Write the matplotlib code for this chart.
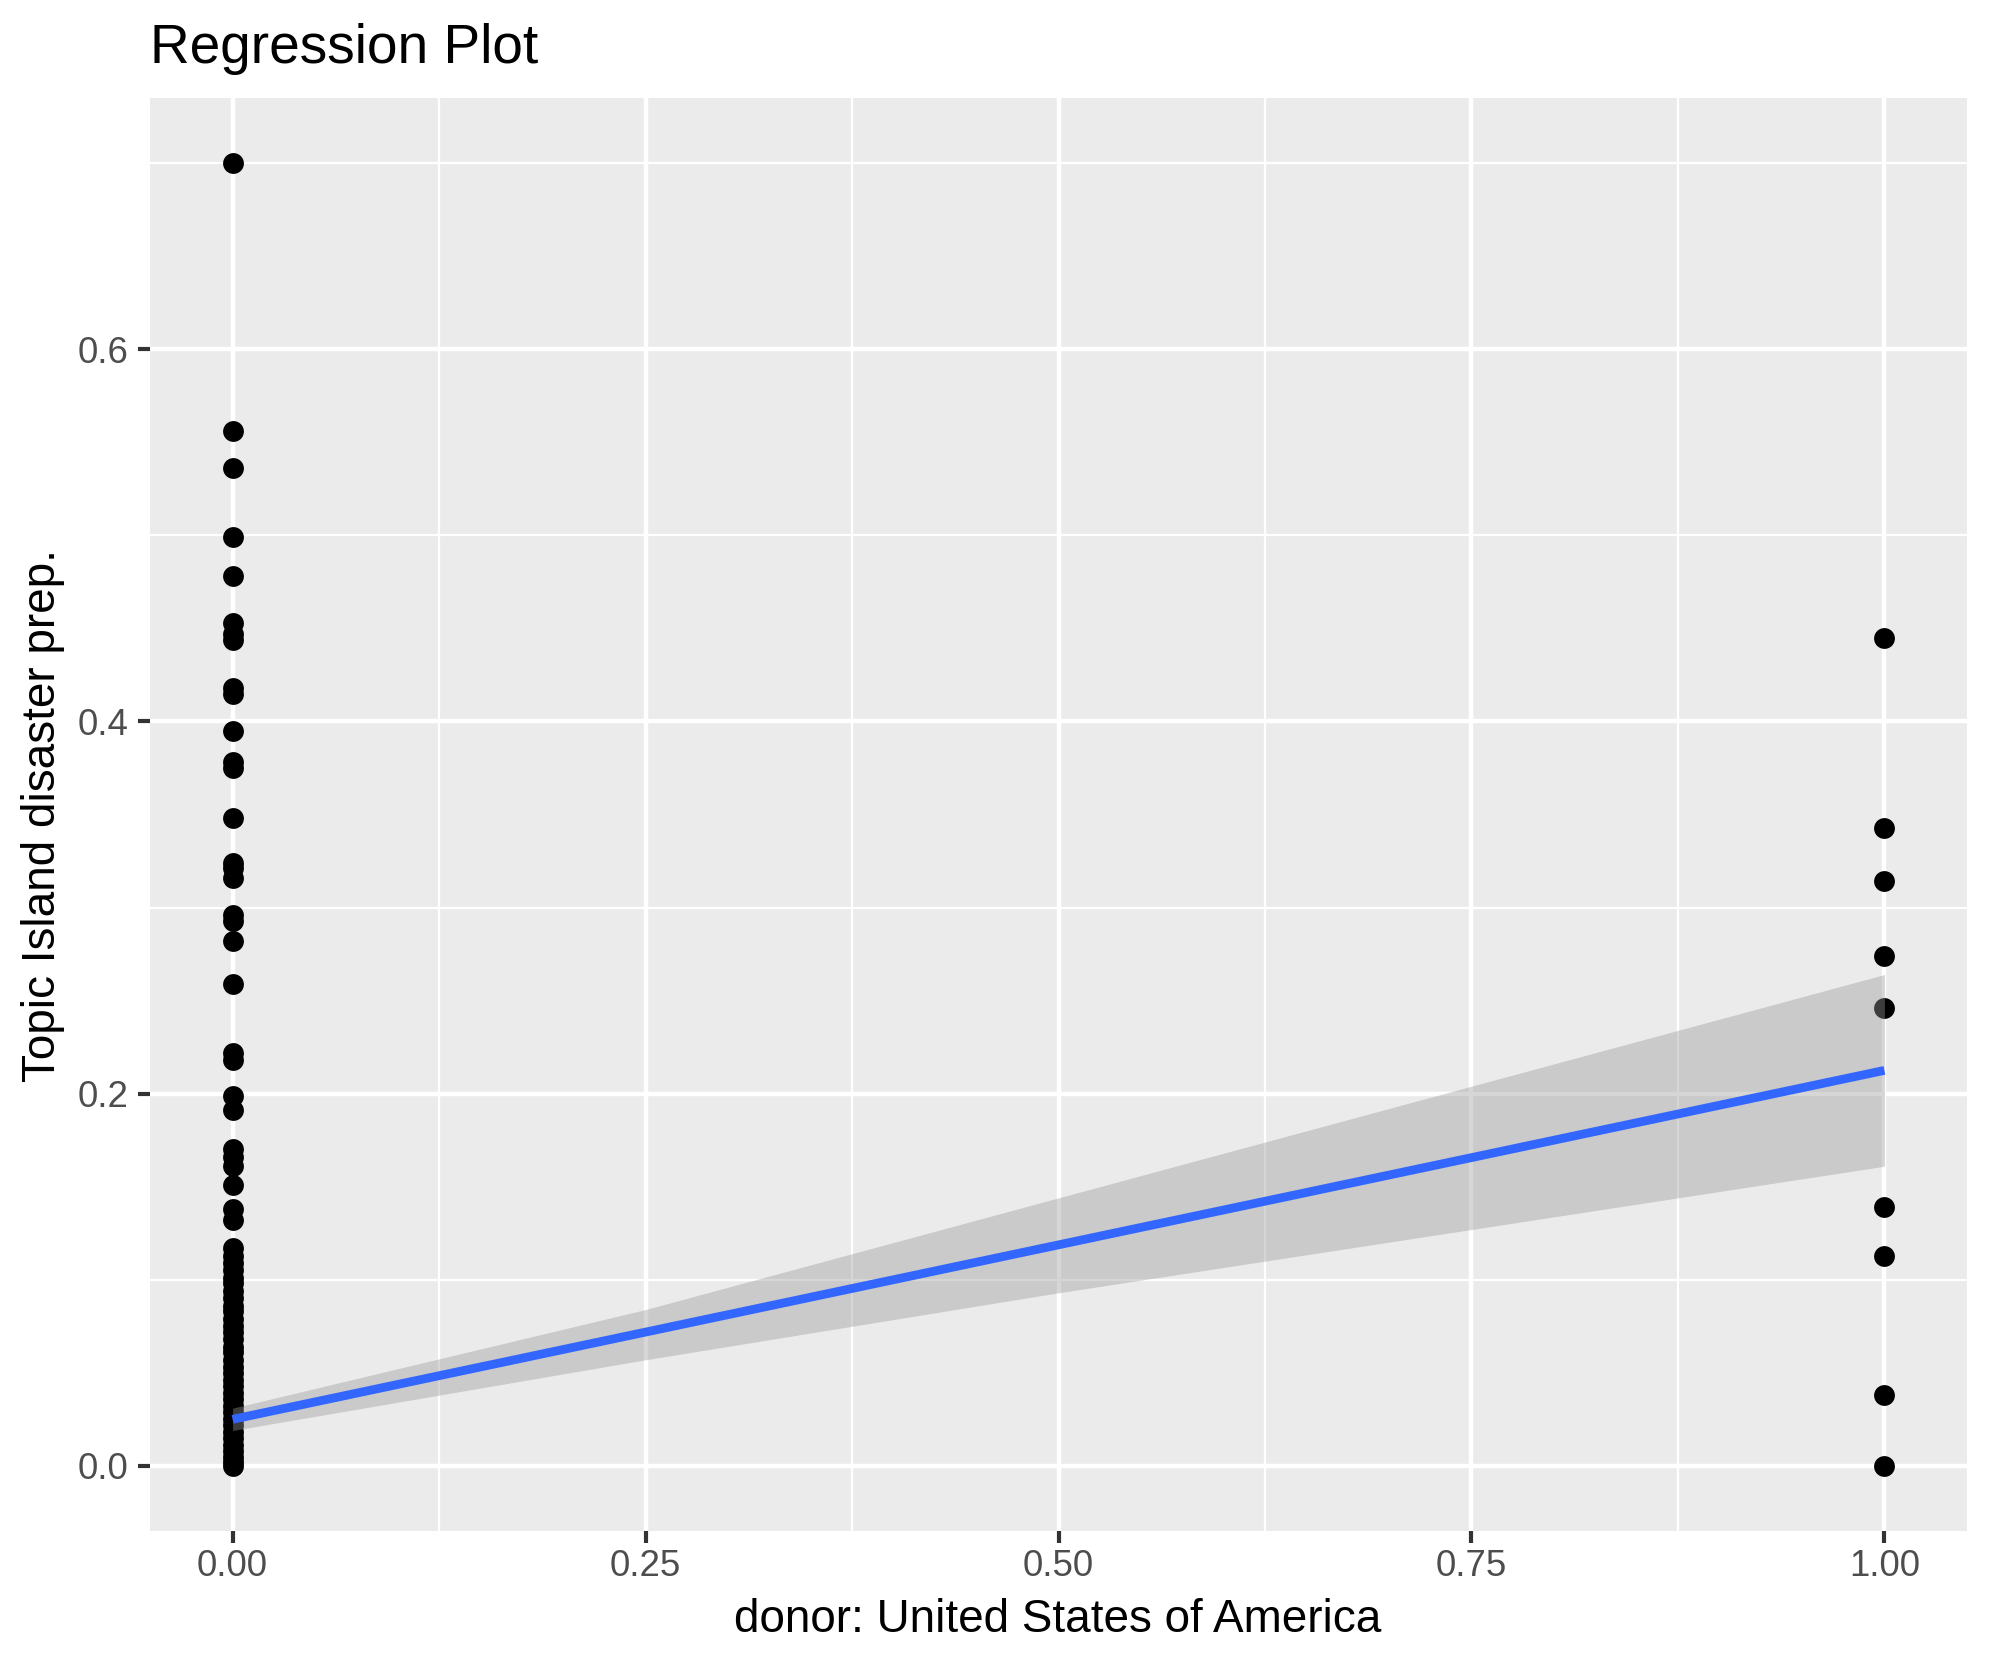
import numpy as np
import matplotlib
matplotlib.use("Agg")
import matplotlib.pyplot as plt
from matplotlib.ticker import MultipleLocator

plt.rcParams['font.family'] = ['Liberation Sans', 'DejaVu Sans']

# points (donor = 0 column, donor = 1 column)
y_donor0 = [0.700, 0.556, 0.536, 0.499, 0.478, 0.453, 0.447, 0.444, 0.418, 0.415,
            0.395, 0.378, 0.375, 0.348, 0.324, 0.321, 0.316, 0.296, 0.293, 0.282,
            0.259, 0.222, 0.218, 0.199, 0.191, 0.170, 0.166, 0.161, 0.151, 0.138,
            0.132, 0.117, 0.113, 0.109, 0.105, 0.101, 0.098, 0.094, 0.090, 0.086,
            0.083, 0.079, 0.075, 0.072, 0.068, 0.064, 0.061, 0.057, 0.053, 0.050,
            0.046, 0.043, 0.039, 0.036, 0.032, 0.029, 0.025, 0.022, 0.018, 0.015,
            0.011, 0.008, 0.005, 0.002, 0.000]
y_donor1 = [0.445, 0.343, 0.314, 0.274, 0.246, 0.139, 0.113, 0.038, 0.000]

# linear fit and its confidence band
fit_x = [0.0, 1.0]
fit_y = [0.025, 0.2125]
band_x = [0.0, 0.25, 0.5, 0.75, 1.0]
band_lo = [0.019, 0.057, 0.093, 0.127, 0.161]
band_hi = [0.031, 0.084, 0.144, 0.204, 0.264]

x_ticks = [0.0, 0.25, 0.5, 0.75, 1.0]
x_labels = ['0.00', '0.25', '0.50', '0.75', '1.00']
y_ticks = [0.0, 0.2, 0.4, 0.6]
y_labels = ['0.0', '0.2', '0.4', '0.6']

W, H = 1990, 1665
fig = plt.figure(figsize=(W / 300, H / 300), dpi=300)
ax = fig.add_axes([150 / W, 1 - 1531 / H, (1967 - 150) / W, (1531 - 98) / H])
ax.set_facecolor('#EBEBEB')
for s in ax.spines.values():
    s.set_visible(False)

# points, then band and line on top (ggplot layer order)
xs = [0.0] * len(y_donor0) + [1.0] * len(y_donor1)
ys = y_donor0 + y_donor1
ax.plot(xs, ys, 'o', color='black', markersize=5.0, markeredgewidth=0, zorder=3)
ax.fill_between(band_x, band_lo, band_hi, color='#999999', alpha=0.4,
                linewidth=0, zorder=4)
ax.plot(fit_x, fit_y, color='#3366FF', linewidth=2.1, solid_capstyle='butt', zorder=5)

ax.set_xlim(-0.05, 1.05)
ax.set_ylim(-0.035, 0.735)
ax.set_xticks(x_ticks)
ax.set_xticklabels(x_labels)
ax.set_yticks(y_ticks)
ax.set_yticklabels(y_labels)
ax.xaxis.set_minor_locator(MultipleLocator(0.125))
ax.yaxis.set_minor_locator(MultipleLocator(0.1))

ax.grid(which='major', color='white', linewidth=1.07, zorder=1)
ax.grid(which='minor', color='white', linewidth=0.53, zorder=1)
ax.set_axisbelow(True)
ax.tick_params(which='major', length=2.8, width=1.0, color='#333333',
               labelsize=8.8, labelcolor='#4D4D4D')
ax.tick_params(axis='x', which='major', pad=1.5)
ax.tick_params(axis='y', which='major', pad=2.4)
ax.tick_params(which='minor', length=0)

fig.text(150 / W, 1 - 63 / H, 'Regression Plot', fontsize=13.2,
         ha='left', va='baseline', color='black')
fig.text(1058 / W, 1 - 1632 / H, 'donor: United States of America', fontsize=11,
         ha='center', va='baseline', color='black')
fig.text(43 / W, 1 - 815 / H, 'Topic Island disaster prep.', fontsize=11,
         rotation=90, ha='center', va='center', color='black')

fig.savefig('out.png', dpi=300, facecolor='white')
